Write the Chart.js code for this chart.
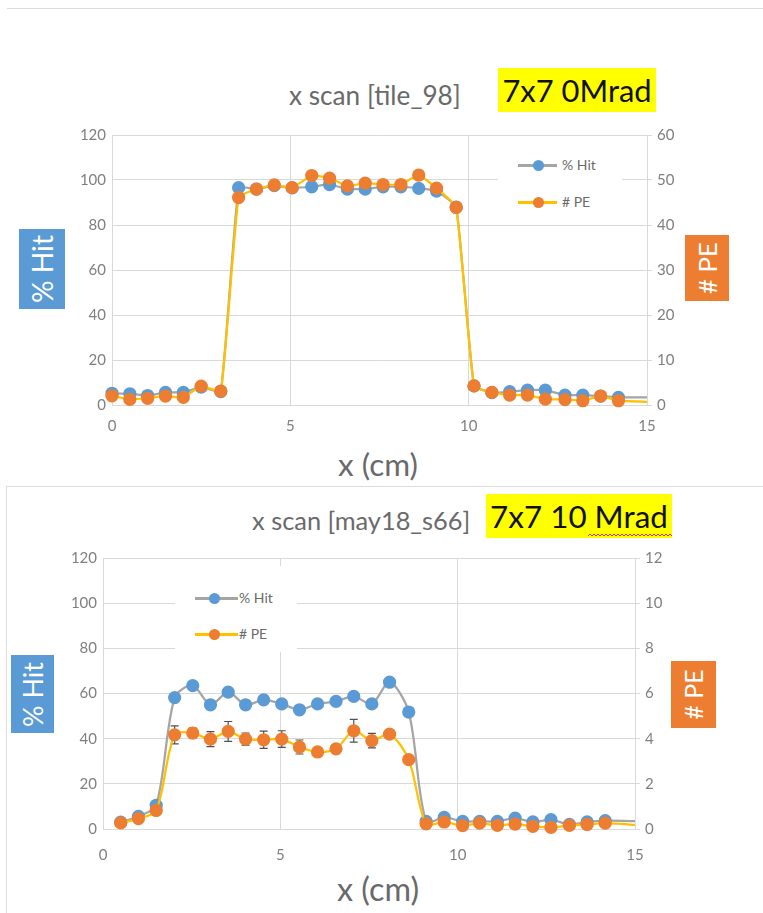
<!DOCTYPE html>
<html>
<head>
<meta charset="utf-8">
<script src="https://cdn.jsdelivr.net/npm/chart.js@4.4.1/dist/chart.umd.min.js"></script>
<style>
  body { margin: 0; background: #fff; font-family: Lato, "Open Sans", sans-serif; }
  #page { position: relative; width: 763px; height: 913px; overflow: hidden; }
  canvas { position: absolute; left: 0; }
  .abs { position: absolute; white-space: nowrap; }
  .title { color: #6a6a6a; font-size: 24px; transform: translateY(-50%); }
  .tag { background: #ffff00; color: #111; display: flex; align-items: center; justify-content: center; font-size: 30px; }
  .xtitle { color: #6a6a6a; font-size: 28px; transform: translate(-50%, -50%); }
  .ybox { color: #fff; display: flex; align-items: center; justify-content: center; font-size: 25px; }
  .ybox span { transform: rotate(-90deg); display: block; }
  .hit { background: #5b9bd5; }
  .pe { background: #ed7d31; }
  .legend { background: #fff; }
  .lrow { position: absolute; left: 0; height: 0; }
  .lline { position: absolute; height: 3px; top: -1.5px; }
  .ldot { position: absolute; width: 11px; height: 11px; border-radius: 50%; top: -5.5px; }
  .ltext { position: absolute; color: #6a6a6a; font-size: 14px; top: -9px; }
  .rule { position: absolute; background: #dcdcdc; }
</style>
</head>
<body>
<div id="page">
  <div class="rule" style="left:7px;top:8px;width:756px;height:1px;"></div>
  <div class="rule" style="left:6px;top:486px;width:757px;height:1px;"></div>
  <div class="rule" style="left:6px;top:486px;width:1px;height:427px;"></div>

  <div class="abs title" style="left:289px;top:95px;"><span data-w="172">x scan [tile_98]</span></div>
  <div class="abs tag" style="left:498px;top:68px;width:158px;height:44px;"><span data-w="149">7x7 0Mrad</span></div>
  <div class="abs ybox hit" style="left:19px;top:229px;width:46px;height:80px;"><span data-w="68">% Hit</span></div>
  <div class="abs ybox pe" style="left:685px;top:235px;width:44px;height:66px;"><span data-w="52"># PE</span></div>
  <div class="abs xtitle" style="left:378px;top:464px;"><span data-w="80">x (cm)</span></div>
  <canvas id="chartTop" width="763" height="330" style="top:120px;"></canvas>

  <div class="abs title" style="left:252px;top:520px;"><span data-w="218">x scan [may18_s66]</span></div>
  <div class="abs tag" style="left:486px;top:494px;width:186px;height:44px;"><span data-w="178">7x7 10 Mrad</span></div>
  <svg class="abs" style="left:588px;top:532px;" width="84" height="6">
    <polyline fill="none" stroke="#e0342c" stroke-width="1" points="0,4 2,2 4,4 6,2 8,4 10,2 12,4 14,2 16,4 18,2 20,4 22,2 24,4 26,2 28,4 30,2 32,4 34,2 36,4 38,2 40,4 42,2 44,4 46,2 48,4 50,2 52,4 54,2 56,4 58,2 60,4 62,2 64,4 66,2 68,4 70,2 72,4 74,2 76,4 78,2 80,4 82,2 84,4"/>
  </svg>
  <div class="abs ybox hit" style="left:11px;top:655px;width:43px;height:78px;"><span data-w="65">% Hit</span></div>
  <div class="abs ybox pe" style="left:671px;top:661px;width:45px;height:67px;"><span data-w="50"># PE</span></div>
  <div class="abs xtitle" style="left:378px;top:888px;"><span data-w="82">x (cm)</span></div>
  <canvas id="chartBot" width="763" height="330" style="top:540px;"></canvas>
</div>

<script>
// ---- data ----
// top chart: 7x7 0Mrad, tile_98
const xTop = [0, 0.5, 1.0, 1.5, 2.0, 2.5, 3.05, 3.55, 4.05, 4.55, 5.05, 5.6, 6.1, 6.6, 7.1,
  7.6, 8.1, 8.6, 9.1, 9.65, 10.15, 10.65, 11.15, 11.65, 12.15, 12.7, 13.2, 13.7, 14.2, 15.2];
const hitTop = [5.2, 5.0, 4.2, 5.6, 5.6, 8.0, 6.0, 96.6, 96.0, 97.5, 96.5, 97.0, 98.0, 96.0, 96.0,
  97.0, 97.0, 96.3, 95.1, 88.0, 8.5, 5.5, 5.9, 6.6, 6.6, 4.4, 4.4, 4.0, 3.4, 3.4];
const peTop = [2.05, 1.25, 1.5, 2.0, 1.7, 4.2, 3.1, 46.1, 48.0, 48.9, 48.3, 51.0, 50.4, 48.7, 49.3,
  49.0, 49.0, 51.1, 48.2, 43.9, 4.25, 2.8, 2.2, 2.2, 1.3, 1.2, 0.95, 2.0, 0.95, 0.64];

// bottom chart: 7x7 10 Mrad, may18_s66
const xBot = [0.5, 1.0, 1.5, 2.02, 2.53, 3.03, 3.53, 4.02, 4.53, 5.04, 5.54, 6.05, 6.57, 7.07,
  7.58, 8.08, 8.62, 9.11, 9.62, 10.14, 10.62, 11.12, 11.62, 12.12, 12.63, 13.15, 13.65, 14.16, 15.2];
const hitBot = [3.0, 5.6, 10.5, 58.2, 63.5, 55.0, 60.6, 55.0, 57.2, 55.4, 52.8, 55.4, 56.5, 58.7,
  55.4, 65.0, 51.8, 3.4, 5.1, 3.4, 3.4, 3.4, 4.8, 3.1, 4.1, 2.0, 3.1, 3.7, 3.4];
const peBot = [0.27, 0.46, 0.82, 4.17, 4.25, 3.98, 4.32, 3.98, 3.95, 3.98, 3.63, 3.41, 3.55, 4.35,
  3.91, 4.2, 3.07, 0.23, 0.31, 0.15, 0.26, 0.16, 0.22, 0.12, 0.07, 0.16, 0.2, 0.26, 0.16];
const peErrBot = [0.05, 0.05, 0.08, 0.40, 0.22, 0.33, 0.44, 0.27, 0.38, 0.37, 0.31, 0.10, 0.15, 0.50,
  0.32, 0.15, 0.10, 0.03, 0.03, 0.03, 0.03, 0.03, 0.03, 0.03, 0.03, 0.03, 0.03, 0.03, 0];

const xTicks = [0, 5, 10, 15];
const hitRange = [0, 120, 20];
const peRangeTop = [0, 60, 10];
const peRangeBot = [0, 12, 2];

const GRID = '#d9d9d9';
const TICK = '#808080';
const BLUE = '#5b9bd5', ORANGE = '#ed7d31', GRAY = '#a5a5a5', GOLD = '#ffc000';
const TICK_FONT = { family: 'Lato', size: 15 };

// shrink/grow the html labels so they take the width they have in the picture
document.querySelectorAll('[data-w]').forEach(el => {
  const target = +el.dataset.w;
  const size = parseFloat(getComputedStyle(el).fontSize);
  const w = el.getBoundingClientRect();
  const width = el.parentElement.classList.contains('ybox') ? w.height : w.width;
  el.style.fontSize = (size * target / width).toFixed(1) + 'px';
});

// draws error bars under the dataset that carries an "errors" array
const errorBars = {
  id: 'errorBars',
  beforeDatasetDraw(chart, args) {
    const ds = chart.data.datasets[args.index];
    if (!ds.errors) return;
    const ctx = chart.ctx;
    const yScale = chart.scales[ds.yAxisID];
    ctx.save();
    ctx.strokeStyle = '#505050';
    ctx.lineWidth = 1.2;
    args.meta.data.forEach((pt, i) => {
      const e = ds.errors[i];
      if (!e || ds.data[i].x > 15) return;
      const y0 = yScale.getPixelForValue(ds.data[i].y + e);
      const y1 = yScale.getPixelForValue(ds.data[i].y - e);
      ctx.beginPath();
      ctx.moveTo(pt.x, y0); ctx.lineTo(pt.x, y1);
      ctx.moveTo(pt.x - 4, y0); ctx.lineTo(pt.x + 4, y0);
      ctx.moveTo(pt.x - 4, y1); ctx.lineTo(pt.x + 4, y1);
      ctx.stroke();
    });
    ctx.restore();
  }
};

function pts(xs, ys) {
  return xs.map((x, i) => ({ x: x, y: ys[i] }));
}

function radii(xs) {
  return xs.map(x => (x > 15 ? 0 : 5.5));
}

function makeChart(id, cfg) {
  const ctx = document.getElementById(id).getContext('2d');
  return new Chart(ctx, {
    type: 'line',
    data: {
      datasets: [{
        label: '% Hit',
        data: pts(cfg.xs, cfg.hit),
        yAxisID: 'y',
        borderColor: GRAY,
        borderWidth: 2.25,
        pointBackgroundColor: BLUE,
        pointBorderColor: BLUE,
        pointRadius: radii(cfg.xs),
        tension: cfg.tension,
        clip: { left: 8, top: 8, right: 0, bottom: 8 },
        order: 1
      }, {
        label: '# PE',
        data: pts(cfg.xs, cfg.pe),
        errors: cfg.err,
        yAxisID: 'y1',
        borderColor: GOLD,
        borderWidth: 2.25,
        pointBackgroundColor: ORANGE,
        pointBorderColor: ORANGE,
        pointRadius: radii(cfg.xs),
        tension: cfg.tension,
        clip: { left: 8, top: 8, right: 0, bottom: 8 },
        order: 0
      }]
    },
    options: {
      responsive: false,
      animation: false,
      layout: { padding: { top: cfg.top, left: 0, right: 0, bottom: 0 } },
      plugins: { legend: { display: false }, tooltip: { enabled: false } },
      scales: {
        x: {
          type: 'linear', min: 0, max: 15,
          afterBuildTicks: s => { s.ticks = xTicks.map(v => ({ value: v })); },
          afterFit: s => { s.height = cfg.xh; },
          grid: { color: GRID, drawTicks: false },
          border: { color: GRID },
          ticks: { color: TICK, font: TICK_FONT, padding: cfg.xpad }
        },
        y: {
          position: 'left', min: hitRange[0], max: hitRange[1],
          afterFit: s => { s.width = cfg.left; },
          grid: { color: GRID, drawTicks: false },
          border: { display: false },
          ticks: { stepSize: hitRange[2], color: TICK, font: TICK_FONT, padding: 6 }
        },
        y1: {
          position: 'right', min: cfg.peRange[0], max: cfg.peRange[1],
          afterFit: s => { s.width = cfg.right; },
          grid: { drawOnChartArea: false, color: GRID, tickLength: 5 },
          border: { color: GRID },
          ticks: { stepSize: cfg.peRange[2], color: TICK, font: TICK_FONT, padding: 5 }
        }
      }
    },
    plugins: [errorBars]
  });
}

function makeLegend(left, top, width, height, rows) {
  const box = document.createElement('div');
  box.className = 'abs legend';
  box.style.cssText = `left:${left}px;top:${top}px;width:${width}px;height:${height}px;`;
  rows.forEach(r => {
    const row = document.createElement('div');
    row.className = 'lrow';
    row.style.top = r.y + 'px';
    row.innerHTML =
      `<div class="lline" style="left:${r.lx}px;width:${r.lw}px;background:${r.line}"></div>` +
      `<div class="ldot" style="left:${r.dx - 5.5}px;background:${r.dot}"></div>` +
      `<div class="ltext" style="left:${r.tx}px">${r.label}</div>`;
    box.appendChild(row);
  });
  document.getElementById('page').appendChild(box);
}

makeChart('chartTop', {
  xs: xTop, hit: hitTop, pe: peTop, err: null, peRange: peRangeTop,
  tension: 0.12, top: 13, xh: 45, xpad: 12, left: 112, right: 116
});
makeChart('chartBot', {
  xs: xBot, hit: hitBot, pe: peBot, err: peErrBot, peRange: peRangeBot,
  tension: 0.3, top: 18, xh: 41, xpad: 17, left: 103, right: 128
});

makeLegend(498, 148, 124, 68, [
  { y: 17, lx: 20, lw: 39, dx: 40, line: GRAY, dot: BLUE, tx: 64, label: '% Hit' },
  { y: 54, lx: 20, lw: 39, dx: 40, line: GOLD, dot: ORANGE, tx: 64, label: '# PE' }
]);
makeLegend(175, 566, 122, 86, [
  { y: 32, lx: 20, lw: 43, dx: 39, line: GRAY, dot: BLUE, tx: 64, label: '% Hit' },
  { y: 68, lx: 20, lw: 43, dx: 39, line: GOLD, dot: ORANGE, tx: 64, label: '# PE' }
]);
</script>
</body>
</html>
